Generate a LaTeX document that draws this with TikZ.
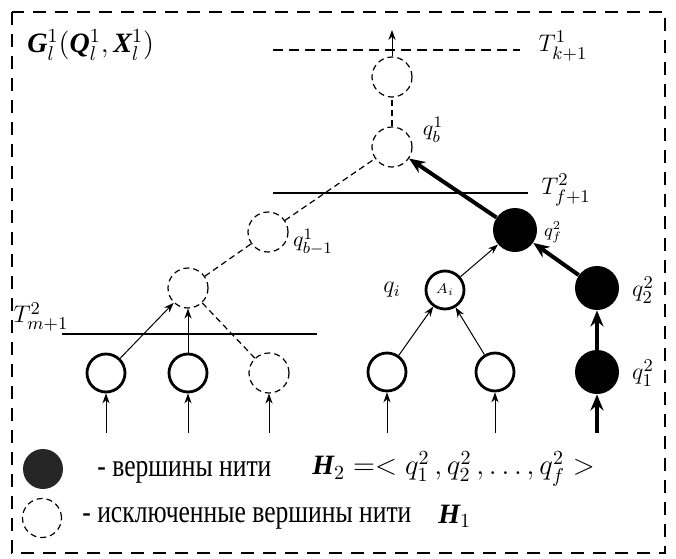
\documentclass[tikz,border=0pt]{standalone}
\usepackage{amsmath}
\usepackage{bm}
\usepackage{fontspec}
\setmainfont{Liberation Serif}
\newfontfamily\legfont[FakeStretch=0.8]{Liberation Serif}
\newcommand{\bi}[1]{\text{\bfseries\itshape #1}}
\usetikzlibrary{arrows.meta, shapes.geometric}

\begin{document}
\begin{tikzpicture}[
    x=0.5pt, y=-0.5pt,
    >=Stealth,
    vtx/.style={circle, draw, line width=1.4pt, minimum size=19pt, inner sep=0pt},
    offvtx/.style={circle, draw, line width=0.6pt, dash pattern=on 3pt off 2pt,
                   minimum size=20pt, inner sep=0pt},
    thrvtx/.style={circle, fill=black, minimum size=22pt, inner sep=0pt},
    arr/.style={-{Stealth[length=5pt, width=3.6pt]}, line width=0.5pt},
    thkarr/.style={-{Stealth[length=8pt, width=6.5pt]}, line width=2pt},
    dline/.style={line width=0.6pt, dash pattern=on 3pt off 2pt},
    lvl/.style={line width=0.6pt},
    lbl/.style={inner sep=0pt},
]
\useasboundingbox (0,0) rectangle (676,558);
% ------------------------------------------------ frame and title
\draw[line width=0.7pt, dash pattern=on 6.5pt off 4.5pt] (12,12) rectangle (665,553);
\node[lbl, anchor=west, font=\fontsize{14}{16}\selectfont] (title) at (27,45)
  {$\bi{G}_l^1(\bi{Q}_l^1,\bi{X}_l^1)$};
% ------------------------------------------------ time levels
\draw[lvl, dash pattern=on 5pt off 3pt] (273,50) coordinate (k0) -- (520,50) coordinate (k1);
\node[lbl, font=\fontsize{13}{15}\selectfont] (tk) at (563,46) {$T^1_{k+1}$};
\draw[lvl] (273,193) coordinate (f0) -- (528,193) coordinate (f1);
\node[lbl, font=\fontsize{13}{15}\selectfont] (tf) at (566,190) {$T^2_{f+1}$};
\draw[lvl] (62,334) coordinate (m0) -- (317,334) coordinate (m1);
\node[lbl, font=\fontsize{13}{15}\selectfont] (tm) at (41,317) {$T^2_{m+1}$};
% ------------------------------------------------ thread H1 (excluded)
\node[offvtx] (top) at (392,77) {};
\node[offvtx] (qb) at (392,147) {};
\node[offvtx] (qbm) at (268,232) {};
\node[offvtx] (low) at (188,288) {};
\node[lbl, font=\fontsize{11}{12}\selectfont] at (433,130) {$q_b^1$};
\node[lbl, font=\fontsize{11}{12}\selectfont] at (313,242) {$q_{b-1}^1$};
\coordinate (out) at (392,30);
\draw[arr] (top) -- (out);
\draw[dline] (qb) -- (top);
\draw[dline] (qbm) -- (qb);
\draw[dline] (low) -- (qbm);
% ------------------------------------------------ left inputs
\node[vtx] (l1) at (106,373) {};
\node[vtx] (l2) at (188,373) {};
\node[offvtx] (l3) at (269,373) {};
\draw[arr] (l1) -- (low);
\draw[arr] (l2) -- (low);
\draw[dline] (l3) -- (low);
% ------------------------------------------------ thread H2
\node[thrvtx] (qf) at (515,230) {};
\node[vtx] (ai) at (445,290) {\fontsize{7}{8}\selectfont$A_i$};
\node[thrvtx] (q2) at (597,288) {};
\node[vtx] (r1) at (387,372) {};
\node[vtx] (r2) at (495,372) {};
\node[thrvtx] (q1) at (597,372) {};
\node[lbl, font=\fontsize{9}{10}\selectfont] at (553,232) {$q_f^2$};
\node[lbl, font=\fontsize{12}{14}\selectfont] at (392,290) {$q_i$};
\node[lbl, font=\fontsize{13}{15}\selectfont] at (643,290) {$q_2^2$};
\node[lbl, font=\fontsize{13}{15}\selectfont] at (643,373) {$q_1^2$};
\draw[thkarr] (qf) -- (qb);
\draw[thkarr] (q2) -- (qf);
\draw[thkarr] (q1) -- (q2);
\draw[arr] (ai) -- (qf);
\draw[arr] (r1) -- (ai);
\draw[arr] (r2) -- (ai);
% ------------------------------------------------ inputs from below
\foreach \v/\x in {l1/106, l2/188, l3/269, r1/387, r2/495} {
  \coordinate (in-\v) at (\x,433);
  \draw[arr] (in-\v) -- (\v);
}
\coordinate (in-q1) at (597,433);
\draw[thkarr] (in-q1) -- (q1);
% ------------------------------------------------ legend
\node[circle, fill=black!85, minimum size=20pt, inner sep=0pt] (lgon) at (43,469) {};
\node[circle, draw, line width=0.6pt, dash pattern=on 3pt off 2pt,
      minimum size=19.5pt, inner sep=0pt] (lgoff) at (42,518) {};
\node[lbl, anchor=west, font=\legfont\fontsize{16}{18}\selectfont] (txon) at (97,472) {- вершины нити};
\node[lbl, anchor=west, font=\fontsize{14}{16}\selectfont] (h2) at (312,469)
  {$\bi{H}_2\;{=}{<}\;q_1^2\,,q_2^2\,,\ldots,q_f^2\;{>}$};
\node[lbl, anchor=west, font=\legfont\fontsize{16}{18}\selectfont] (txoff) at (82,518) {- исключенные вершины нити};
\node[lbl, anchor=west, font=\fontsize{14}{16}\selectfont] (h1) at (438,516) {$\bi{H}_1$};
\end{tikzpicture}
\end{document}
